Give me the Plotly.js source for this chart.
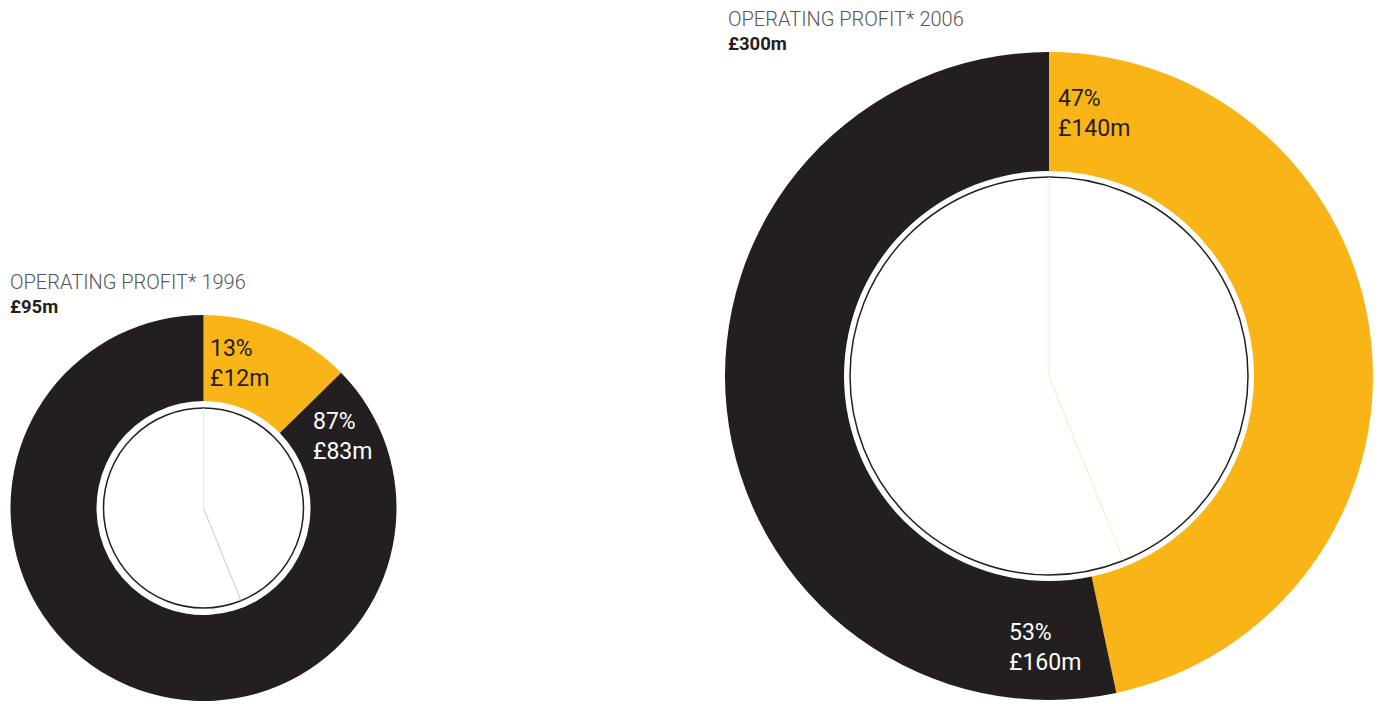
<!DOCTYPE html>
<html>
<head>
<meta charset="utf-8">
<script src="https://cdn.plot.ly/plotly-3.0.1.min.js"></script>
<style>html,body{margin:0;padding:0;background:#fff;}#chart{width:1380px;height:704px;}</style>
</head>
<body>
<div id="chart"></div>
<script>
// ---- data ----
const segments = ["Segment A", "Other"];
const years = ["1996", "2006"];
const totals = [95, 300];
const profit1996 = [12, 83];
const pct1996 = [13, 87];
const profit2006 = [140, 160];
const pct2006 = [47, 53];
const titleText = "OPERATING PROFIT*";

// ---- styling ----
const YELLOW = "#F9B418";
const BLACK = "#231F20";
const W = 1380, H = 704;
const px = x => x / W;
const py = y => 1 - y / H;

// geometry (pixels)
const L = {cx: 203.5, cy: 508, r: 193, hole: 107, ring: 100};
const R = {cx: 1049, cy: 376, r: 324, hole: 205, ring: 199};

function domainFor(g) {
  return {x: [px(g.cx - g.r), px(g.cx + g.r)], y: [py(g.cy + g.r), py(g.cy - g.r)]};
}

const traces = [
  {type: "pie", labels: segments, values: profit1996, sort: false, direction: "clockwise", rotation: 0,
   hole: L.hole / L.r, domain: domainFor(L), textinfo: "none", hoverinfo: "label+value+percent",
   marker: {colors: [YELLOW, BLACK], line: {width: 0}}},
  {type: "pie", labels: segments, values: profit2006, sort: false, direction: "clockwise", rotation: 0,
   hole: R.hole / R.r, domain: domainFor(R), textinfo: "none", hoverinfo: "label+value+percent",
   marker: {colors: [YELLOW, BLACK], line: {width: 0}}}
];

function ring(g) {
  return {type: "circle", xref: "paper", yref: "paper", layer: "above",
    x0: px(g.cx - g.ring), x1: px(g.cx + g.ring), y0: py(g.cy + g.ring), y1: py(g.cy - g.ring),
    line: {color: BLACK, width: 1.5}, fillcolor: "#ffffff"};
}
function ray(g, deg, color) {
  const a = deg * Math.PI / 180;
  return {type: "line", xref: "paper", yref: "paper", layer: "above",
    x0: px(g.cx), y0: py(g.cy), x1: px(g.cx + Math.sin(a) * g.ring), y1: py(g.cy - Math.cos(a) * g.ring),
    line: {color: color, width: 0.8}};
}

const shapes = [
  ring(L), ring(R),
  ray(L, 0, "#FBE3A6"), ray(L, 158, "#BDBDBD"),
  ray(R, 0, "#FBE3A6"), ray(R, 158, "#FBE3A6")
];

const labelFont = (c) => ({family: "Roboto, 'Open Sans', sans-serif", size: 23, color: c});
function lbl(x, y, pct, val, color) {
  return {xref: "paper", yref: "paper", x: px(x), y: py(y), xanchor: "left", yanchor: "top",
    align: "left", showarrow: false, text: pct + "%<br>£" + val + "m", font: labelFont(color)};
}
function title(x, y, i) {
  return [
    {xref: "paper", yref: "paper", x: px(x), y: py(y), xanchor: "left", yanchor: "top", showarrow: false,
     text: titleText + " " + years[i],
     font: {family: "Roboto, sans-serif", size: 20, weight: 300, color: "#555557"}},
    {xref: "paper", yref: "paper", x: px(x), y: py(y + 26), xanchor: "left", yanchor: "top", showarrow: false,
     text: "<b>£" + totals[i] + "m</b>",
     font: {family: "Roboto, sans-serif", size: 18.5, color: BLACK}}
  ];
}

const annotations = [
  lbl(208, 333, pct1996[0], profit1996[0], BLACK),
  lbl(311, 406, pct1996[1], profit1996[1], "#ffffff"),
  lbl(1056, 83, pct2006[0], profit2006[0], BLACK),
  lbl(1007, 617, pct2006[1], profit2006[1], "#ffffff"),
  ...title(8, 268, 0),
  ...title(726, 5, 1)
];

const layout = {
  width: W, height: H, margin: {l: 0, r: 0, t: 0, b: 0},
  paper_bgcolor: "#ffffff", plot_bgcolor: "#ffffff",
  showlegend: false, shapes: shapes, annotations: annotations
};

Plotly.newPlot("chart", traces, layout, {displayModeBar: false, staticPlot: true});
</script>
</body>
</html>
